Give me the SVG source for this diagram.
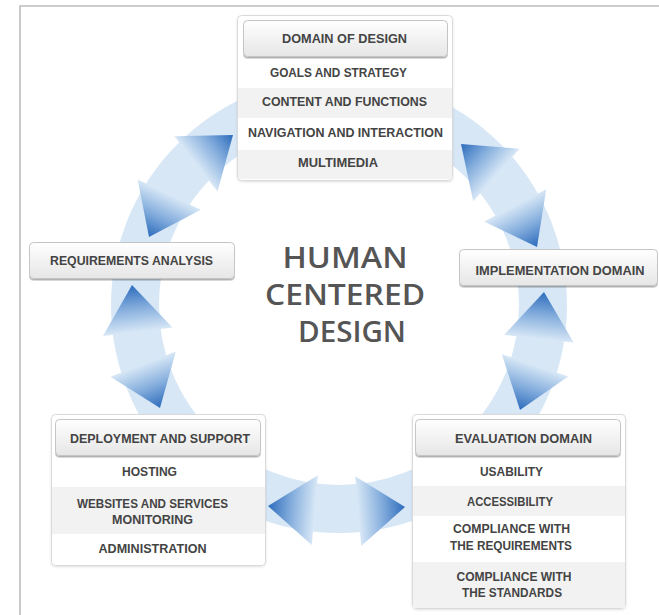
<svg xmlns="http://www.w3.org/2000/svg" xmlns:xlink="http://www.w3.org/1999/xlink" width="659" height="615" viewBox="0 0 659 615">
  <style>
    .frame { fill: none; stroke: #bdbdbd; stroke-width: 1.6; }
    .panel { fill: #ffffff; stroke: #dadada; stroke-width: 1; filter: url(#soft); }
    .btn { fill: url(#btnGrad); stroke: #c4c4c4; stroke-width: 1; filter: url(#btnShadow); }
    .band { fill: #f2f2f2; }
    .lbl { font-family: "Liberation Sans", Arial, sans-serif; font-weight: bold; font-size: 12px; fill: #444444; text-anchor: middle; }
    .title { font-family: "Open Sans", "Liberation Sans", Arial, sans-serif; font-weight: 600; font-size: 28px; fill: #555555; text-anchor: middle; }
    .ring { fill: none; stroke: #d7e7f6; stroke-width: 48; }
    .head { fill: url(#headGrad); }
  </style>
  <defs>
    <linearGradient id="headGrad" x1="1" y1="0" x2="0" y2="0">
      <stop offset="0" stop-color="#2d6cbc"/>
      <stop offset="0.5" stop-color="#85aedd"/>
      <stop offset="1" stop-color="#d7e7f6"/>
    </linearGradient>
    <linearGradient id="btnGrad" x1="0" y1="0" x2="0" y2="1">
      <stop offset="0" stop-color="#ffffff"/>
      <stop offset="1" stop-color="#e6e6e6"/>
    </linearGradient>
    <filter id="soft" x="-5%" y="-5%" width="110%" height="110%">
      <feDropShadow dx="0" dy="1" stdDeviation="1" flood-color="#000" flood-opacity="0.12"/>
    </filter>
    <filter id="btnShadow" x="-5%" y="-10%" width="110%" height="130%">
      <feDropShadow dx="0" dy="1.5" stdDeviation="0.6" flood-color="#000" flood-opacity="0.3"/>
    </filter>
    <!-- arrowhead pointing along +x, tip at the origin -->
    <polygon id="head" points="0,0 -47,-35 -47,35"/>
  </defs>

  <rect width="659" height="615" fill="#ffffff"/>
  <path class="frame" d="M20,615 V6 H659"/>

  <!-- cycle ring with double arrowheads -->
  <g id="connectors">
    <circle class="ring" cx="339" cy="305" r="204"/>
    <use xlink:href="#head" class="head" transform="translate(233,135) rotate(-38)"/>
    <use xlink:href="#head" class="head" transform="translate(149,237) rotate(115.5)"/>
    <use xlink:href="#head" class="head" transform="translate(461,144) rotate(-138.7)"/>
    <use xlink:href="#head" class="head" transform="translate(537,247) rotate(62.4)"/>
    <use xlink:href="#head" class="head" transform="translate(544,292) rotate(-83.7)"/>
    <use xlink:href="#head" class="head" transform="translate(520,410) rotate(108.6)"/>
    <use xlink:href="#head" class="head" transform="translate(268,506) rotate(185)"/>
    <use xlink:href="#head" class="head" transform="translate(405,507) rotate(-5)"/>
    <use xlink:href="#head" class="head" transform="translate(132,285) rotate(-97)"/>
    <use xlink:href="#head" class="head" transform="translate(160,408) rotate(69)"/>
  </g>

  <g id="title">
    <text class="title" x="345" y="268" textLength="125" lengthAdjust="spacingAndGlyphs">HUMAN</text>
    <text class="title" x="345" y="305" textLength="160" lengthAdjust="spacingAndGlyphs">CENTERED</text>
    <text class="title" x="352" y="342" textLength="108" lengthAdjust="spacingAndGlyphs">DESIGN</text>
  </g>

  <g id="domain-of-design">
    <rect class="panel" x="237.5" y="15.5" width="215" height="165" rx="4"/>
    <rect class="band" x="238" y="88" width="214" height="30"/>
    <rect class="band" x="238" y="150" width="214" height="29"/>
    <rect class="btn" x="243.5" y="20.5" width="204" height="36" rx="4"/>
    <text class="lbl" x="344.5" y="43.3" textLength="125" lengthAdjust="spacingAndGlyphs">DOMAIN OF DESIGN</text>
    <text class="lbl" x="338.5" y="77.3" textLength="137" lengthAdjust="spacingAndGlyphs">GOALS AND STRATEGY</text>
    <text class="lbl" x="344.5" y="106.3" textLength="165" lengthAdjust="spacingAndGlyphs">CONTENT AND FUNCTIONS</text>
    <text class="lbl" x="345.5" y="137.3" textLength="195" lengthAdjust="spacingAndGlyphs">NAVIGATION AND INTERACTION</text>
    <text class="lbl" x="338" y="167.3" textLength="80" lengthAdjust="spacingAndGlyphs">MULTIMEDIA</text>
  </g>

  <g id="requirements-analysis">
    <rect class="btn" x="29.5" y="242.5" width="205" height="36" rx="4"/>
    <text class="lbl" x="131.5" y="265" textLength="163" lengthAdjust="spacingAndGlyphs">REQUIREMENTS ANALYSIS</text>
  </g>

  <g id="implementation-domain">
    <rect class="btn" x="459.5" y="249.5" width="198" height="36" rx="4"/>
    <text class="lbl" x="560" y="275" textLength="169" lengthAdjust="spacingAndGlyphs">IMPLEMENTATION DOMAIN</text>
  </g>

  <g id="deployment-and-support">
    <rect class="panel" x="51.5" y="414.5" width="214" height="151" rx="4"/>
    <rect class="band" x="52" y="487" width="213" height="47"/>
    <rect class="btn" x="55.5" y="419.5" width="205" height="36" rx="4"/>
    <text class="lbl" x="160" y="443.3" textLength="180" lengthAdjust="spacingAndGlyphs">DEPLOYMENT AND SUPPORT</text>
    <text class="lbl" x="149.5" y="476.3" textLength="55" lengthAdjust="spacingAndGlyphs">HOSTING</text>
    <text class="lbl" x="152.5" y="508.3" textLength="151" lengthAdjust="spacingAndGlyphs">WEBSITES AND SERVICES</text>
    <text class="lbl" x="152.5" y="524.3" textLength="81" lengthAdjust="spacingAndGlyphs">MONITORING</text>
    <text class="lbl" x="152.5" y="553.3" textLength="108" lengthAdjust="spacingAndGlyphs">ADMINISTRATION</text>
  </g>

  <g id="evaluation-domain">
    <rect class="panel" x="412.5" y="414.5" width="213" height="194" rx="4"/>
    <rect class="band" x="413" y="486" width="212" height="30"/>
    <rect class="band" x="413" y="562" width="212" height="46"/>
    <rect class="btn" x="415.5" y="419.5" width="205" height="36" rx="4"/>
    <text class="lbl" x="523.5" y="443.3" textLength="137" lengthAdjust="spacingAndGlyphs">EVALUATION DOMAIN</text>
    <text class="lbl" x="511.5" y="476.3" textLength="63" lengthAdjust="spacingAndGlyphs">USABILITY</text>
    <text class="lbl" x="510" y="506.3" textLength="86" lengthAdjust="spacingAndGlyphs">ACCESSIBILITY</text>
    <text class="lbl" x="511.5" y="533.3" textLength="117" lengthAdjust="spacingAndGlyphs">COMPLIANCE WITH</text>
    <text class="lbl" x="511" y="550.3" textLength="122" lengthAdjust="spacingAndGlyphs">THE REQUIREMENTS</text>
    <text class="lbl" x="514" y="581.3" textLength="115" lengthAdjust="spacingAndGlyphs">COMPLIANCE WITH</text>
    <text class="lbl" x="512" y="597.3" textLength="100" lengthAdjust="spacingAndGlyphs">THE STANDARDS</text>
  </g>
</svg>
